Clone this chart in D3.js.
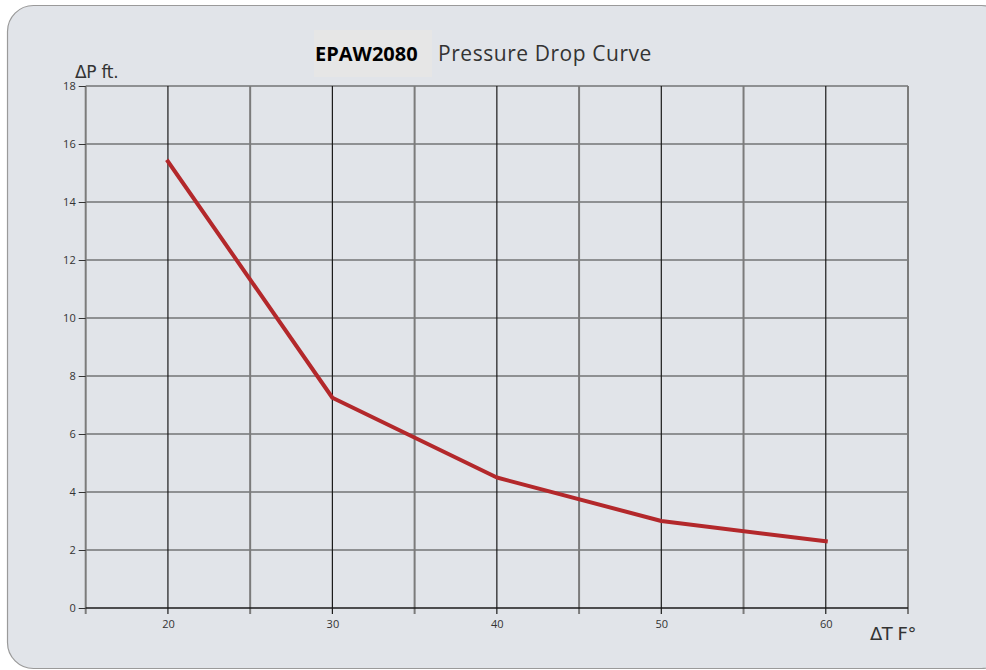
<!DOCTYPE html>
<html>
<head>
<meta charset="utf-8">
<script src="https://cdn.jsdelivr.net/npm/d3@7"></script>
<style>
    html, body { margin: 0; padding: 0; background: #ffffff; }
    svg { display: block; }
</style>
</head>
<body>
<div id="chart"></div>
<script>
// Pressure drop curve data
const modelName = 'EPAW2080';
const chartTitle = 'Pressure Drop Curve';
const deltaT = [20, 30, 40, 50, 60];
const pressureDrop = [15.4, 7.25, 4.5, 3.0, 2.3];
const xMajorTicks = [20, 30, 40, 50, 60];
const xMinorTicks = [15, 25, 35, 45, 55, 65];
const yTicks = [0, 2, 4, 6, 8, 10, 12, 14, 16, 18];

const width = 986, height = 670;
const margin = { left: 85.7, right: 78, top: 86, bottom: 62 };

const svg = d3.select('#chart')
    .append('svg')
    .attr('width', width)
    .attr('height', height);

// Panel background
svg.append('rect')
    .attr('x', 7.5).attr('y', 5.5)
    .attr('width', 1000).attr('height', 663)
    .attr('rx', 26).attr('ry', 26)
    .attr('fill', '#e1e4e9')
    .attr('stroke', '#9a9a9a')
    .attr('stroke-width', 1.2);

const x = d3.scaleLinear().domain([15, 65]).range([margin.left, width - margin.right]);
const y = d3.scaleLinear().domain([0, 18]).range([height - margin.bottom, margin.top]);

const g = svg.append('g');

// Horizontal grid lines
g.selectAll('line.hgrid')
    .data(yTicks.filter(d => d > 0))
    .enter()
    .append('line')
    .attr('class', 'hgrid')
    .attr('x1', x(15)).attr('x2', x(65))
    .attr('y1', d => y(d)).attr('y2', d => y(d))
    .attr('stroke', '#3d3d3d')
    .attr('stroke-width', 1.2);

// Minor vertical grid (gray)
g.selectAll('line.vminor')
    .data(xMinorTicks)
    .enter()
    .append('line')
    .attr('class', 'vminor')
    .attr('x1', d => x(d)).attr('x2', d => x(d))
    .attr('y1', y(18)).attr('y2', y(0) + 6)
    .attr('stroke', '#7b7b7b')
    .attr('stroke-width', 2);

// Major vertical grid (black)
g.selectAll('line.vmajor')
    .data(xMajorTicks)
    .enter()
    .append('line')
    .attr('class', 'vmajor')
    .attr('x1', d => x(d)).attr('x2', d => x(d))
    .attr('y1', y(18)).attr('y2', y(0) + 6)
    .attr('stroke', '#1a1a1a')
    .attr('stroke-width', 1.2);

// Bottom axis line
g.append('line')
    .attr('x1', x(15)).attr('x2', x(65))
    .attr('y1', y(0)).attr('y2', y(0))
    .attr('stroke', '#1a1a1a')
    .attr('stroke-width', 1.4);

// Y axis ticks + labels
const yAxis = d3.axisLeft(y).tickValues(yTicks).tickSize(7).tickPadding(3);
const yG = svg.append('g')
    .attr('transform', `translate(${x(15)},0)`)
    .call(yAxis);
yG.select('.domain').remove();
yG.selectAll('line').attr('stroke', '#333').attr('stroke-width', 1);
yG.selectAll('text')
    .attr('fill', '#333')
    .style('font-family', '"Open Sans", sans-serif')
    .style('font-size', '11px');

// X axis labels
const xAxis = d3.axisBottom(x).tickValues(xMajorTicks).tickSize(0).tickPadding(12);
const xG = svg.append('g')
    .attr('transform', `translate(0,${y(0)})`)
    .call(xAxis);
xG.select('.domain').remove();
xG.selectAll('text')
    .attr('fill', '#333')
    .style('font-family', '"Open Sans", sans-serif')
    .style('font-size', '11px');

// Curve
const line = d3.line()
    .x((d, i) => x(deltaT[i]))
    .y(d => y(d))
    .curve(d3.curveLinear);

svg.append('path')
    .datum(pressureDrop)
    .attr('d', line)
    .attr('fill', 'none')
    .attr('stroke', '#b3282b')
    .attr('stroke-width', 4)
    .attr('stroke-linejoin', 'round')
    .attr('stroke-linecap', 'square');

// Title
svg.append('rect')
    .attr('x', 314).attr('y', 30)
    .attr('width', 118).attr('height', 47)
    .attr('fill', '#e6e6e6');

svg.append('text')
    .attr('x', 315).attr('y', 61)
    .attr('font-weight', 'bold')
    .attr('fill', '#000')
    .style('font-family', '"Open Sans", sans-serif')
    .style('font-size', '20px')
    .text(modelName);

svg.append('text')
    .attr('x', 438).attr('y', 61)
    .attr('fill', '#333')
    .style('font-family', '"Open Sans", sans-serif')
    .style('font-size', '21px')
    .style('letter-spacing', '0.55px')
    .text(chartTitle);

// Axis titles
svg.append('text')
    .attr('x', 75).attr('y', 78)
    .attr('fill', '#333')
    .style('font-family', '"DejaVu Sans", sans-serif')
    .style('font-size', '17px')
    .style('letter-spacing', '-0.3px')
    .text('ΔP ft.');

svg.append('text')
    .attr('x', 870).attr('y', 640)
    .attr('fill', '#333')
    .style('font-family', '"DejaVu Sans", sans-serif')
    .style('font-size', '18px')
    .style('letter-spacing', '-0.5px')
    .text('ΔT F°');
</script>
</body>
</html>
